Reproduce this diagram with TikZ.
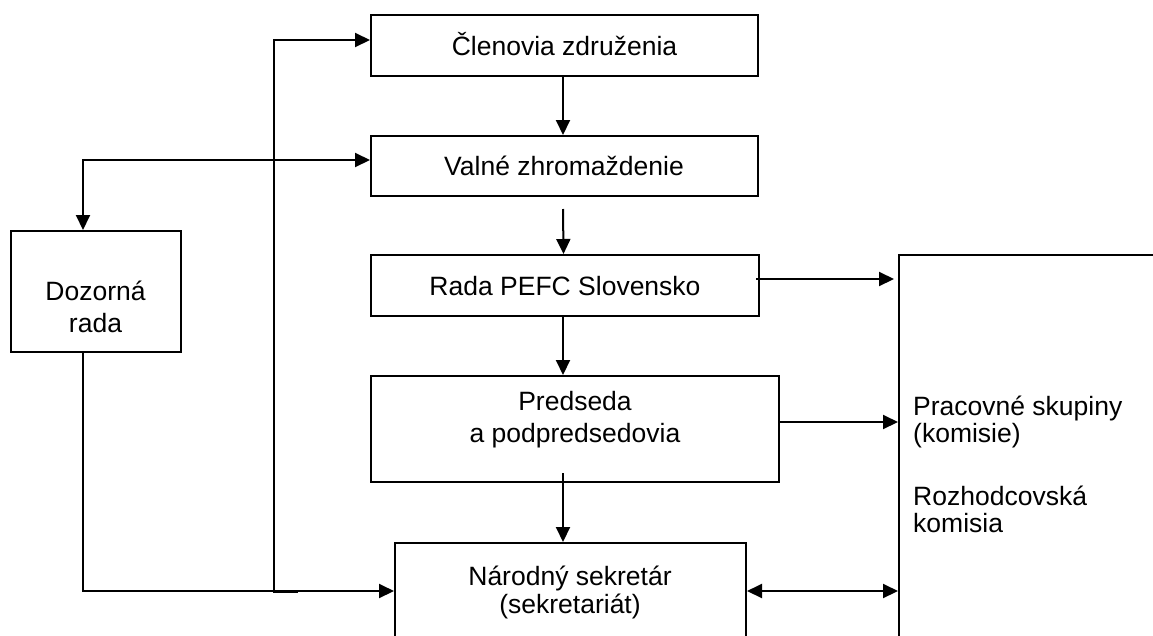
\documentclass[tikz,border=0pt]{standalone}
\usepackage{fontspec}
\setmainfont{Liberation Sans}
\usetikzlibrary{arrows.meta}
\newcommand\mlinesc[1]{\begin{tabular}[t]{@{}c@{}}#1\end{tabular}}
\newcommand\mlinesl[1]{\begin{tabular}[t]{@{}l@{}}#1\end{tabular}}
\tikzset{
  box/.style={draw=black, line width=2pt, rectangle, inner sep=0pt, fill=none},
  txt/.style={inner sep=0pt, anchor=base, font=\fontsize{26.5}{30}\selectfont},
  ln/.style={line width=2pt, draw=black},
  arr/.style={ln, -{Triangle[length=15pt,width=14pt]}},
  arrb/.style={ln, {Triangle[length=15pt,width=14pt]}-{Triangle[length=15pt,width=14pt]}},
}
\begin{document}
\begin{tikzpicture}[x=1pt, y=-1pt]
\useasboundingbox (0,0) rectangle (1153,635);
\clip (0,0) rectangle (1153,635);
\fill[white] (0,0) rectangle (1153,635);
% boxes
\node[box, minimum width=387, minimum height=61] (clen) at (564.5,45.5) {};
\node[box, minimum width=387, minimum height=60] (valne) at (564.5,166) {};
\node[box, minimum width=388, minimum height=61] (rada) at (565,285.5) {};
\node[box, minimum width=408, minimum height=106] (pred) at (575,429) {};
\node[box, minimum width=351, minimum height=257] (sek) at (570.5,671.5) {};
\node[box, minimum width=170, minimum height=121] (dozor) at (96,291.5) {};
\node[box, minimum width=401, minimum height=545] (pk) at (1099.5,527.5) {};
% texts
\node[txt] (tclen) at (564.5,55) {Členovia združenia};
\node[txt] (tvalne) at (564,175) {Valné zhromaždenie};
\node[txt] (trada) at (565,295) {Rada PEFC Slovensko};
\node[txt, font=\fontsize{26.5}{32}\selectfont] (tpred) at (575,410) {\mlinesc{Predseda\\a podpredsedovia}};
\node[txt, font=\fontsize{26.5}{28}\selectfont] (tsek) at (570,585) {\mlinesc{Národný sekretár\\(sekretariát)}};
\node[txt, font=\fontsize{26.5}{32}\selectfont] (tdozor) at (95.5,300.5) {\mlinesc{Dozorná\\rada}};
\node[txt, anchor=base west, font=\fontsize{26.5}{27}\selectfont] (tpk) at (913,415) {\mlinesl{Pracovné skupiny\\(komisie)}};
\node[txt, anchor=base west, font=\fontsize{26.5}{27}\selectfont] (troz) at (913,505) {\mlinesl{Rozhodcovská\\komisia}};
% vertical chain
\draw[arr] ([xshift=-1.5pt]clen.south) -- ([xshift=-1.5pt]valne.north);
\draw[arr] ([shift={(-1.5,12)}]valne.south) -- ([xshift=-1.5pt]rada.north);
\draw[arr] ([xshift=-2pt]rada.south) -- ([xshift=-2pt]rada.south |- pred.north);
\draw[arr] ([shift={(-12,-10)}]pred.south) -- ([xshift=-12pt]pred.south |- sek.north);
% to right box
\draw[arr] ([shift={(-4,25)}]rada.north east) -- ([shift={(-4,25)}]rada.north east -| pk.west);
\draw[arr] ([shift={(0,47)}]pred.north east) -- ([shift={(0,47)}]pred.north east -| pk.west);
\draw[arrb] ([shift={(0,49)}]sek.north east) -- ([shift={(0,49)}]sek.north east -| pk.west);
% left side
\draw[arrb] ([yshift=6pt]valne.west) -| ([xshift=-13pt]dozor.north);
\draw[arr] ([xshift=-13pt]dozor.south) |- ([shift={(0,49)}]sek.north west);
\coordinate (j) at (298,592);
\draw[arr] (j) -| ([shift={(-96,-5.5)}]clen.west) -- ([shift={(0,-5.5)}]clen.west);
\end{tikzpicture}
\end{document}
